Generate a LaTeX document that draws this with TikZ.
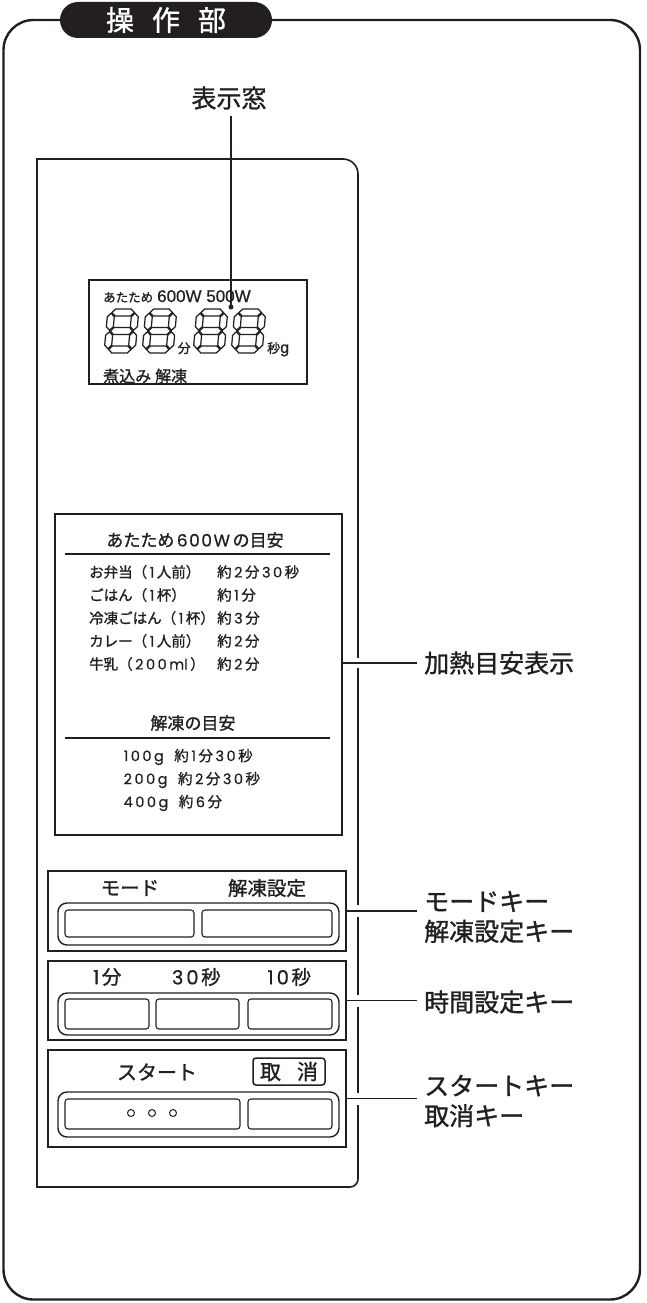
\documentclass[tikz,border=0pt]{standalone}
\usepackage{fontspec}
\setmainfont{Noto Sans CJK JP}[FakeBold=1.2]
\newfontfamily\lat{Liberation Sans}[FakeBold=0.8]
\newfontfamily\dig{Poppins}[FakeBold=0.6]
\definecolor{ink}{HTML}{231F20}
\newcommand{\fs}[1]{\fontsize{#1}{#1}\selectfont}
\newcommand{\dg}[1]{{\dig\kern2.5pt #1\kern2.5pt}}
\newcommand{\ds}{\kern2.5pt}
\newcommand{\segdigit}[2]{%
  \begin{scope}[shift={(#1,#2)},xslant=0.09]
    \foreach \yc in {-40.5,-22,-3.5}
      \draw[seg] (4.3,\yc) -- ++(3.5,-3.5) -- ++(15.4,0) -- ++(3.5,3.5) -- ++(-3.5,3.5) -- ++(-15.4,0) -- cycle;
    \foreach \xc in {3.5,27.5}
      \foreach \ya in {-39.7,-21.2}
        \draw[seg] (\xc,\ya) -- ++(3.5,3.5) -- ++(0,9.9) -- ++(-3.5,3.5) -- ++(-3.5,-3.5) -- ++(0,-9.9) -- cycle;
  \end{scope}}
\begin{document}
\begin{tikzpicture}[x=1pt,y=-1pt,
  frame/.style={draw=ink, line width=2.4pt},
  pline/.style={draw=ink, line width=1.6pt},
  boxn/.style={draw=ink, line width=1.6pt, inner sep=0pt},
  rule/.style={draw=ink, line width=1.3pt},
  leader/.style={draw=ink, line width=1.4pt},
  tray/.style={draw=ink, line width=1.4pt, rounded corners=9pt, inner sep=0pt},
  keyb/.style={draw=ink, line width=1.1pt, rounded corners=3pt, inner sep=0pt},
  seg/.style={draw=ink, line width=1.25pt, line join=miter},
  txt/.style={text=ink, inner sep=0pt},
  gap/.style={fill=white, draw=none}]
\useasboundingbox (0,0) rectangle (646,1303);

% outer frame and title badge
\draw[frame, rounded corners=30pt] (3.5,20) rectangle (640,1299.5);
\node[fill=ink, rounded corners=18pt, minimum width=212pt, minimum height=36pt, inner sep=0pt,
      text=white, font=\fs{28}] (title) at (166,20) {操\kern18pt 作\kern18pt 部};

% label of display
\node[txt, font=\fs{25}] (hyoji) at (229,98) {表示窓};

% panel
\draw[pline] (37,1187) -- (37,159) -- (343,159) .. controls (351.28,159) and (358,165.72) .. (358,174)
  -- (358,1179) .. controls (358,1183.42) and (354.42,1187) .. (350,1187) -- cycle;

% display window
\node[boxn, minimum width=218pt, minimum height=104pt] (disp) at (198,332) {};
\node[txt, anchor=base west] (dtop) at (103,302) {{\fs{12.5}あたため}\kern4pt{\lat\fs{17}600W 500W}};
\segdigit{104}{353}
\segdigit{142}{353}
\segdigit{193}{353}
\segdigit{231}{353}
\node[txt, anchor=base west, font=\fs{13}] (fun) at (177.5,353) {分};
\node[txt, anchor=base west] (byog) at (267,353) {{\fs{13}秒}{\lat\fs{16}g}};
\node[txt, anchor=west, font=\fs{16}] (nikomi) at (103,376) {煮込み\kern4pt 解凍};
\node[circle, fill=ink, inner sep=0pt, minimum size=5pt] (dot) at (231,307) {};
\draw[leader, shorten <=6pt] (dot |- hyoji.south) -- (dot.center);

% heating guide
\node[boxn, minimum width=287pt, minimum height=321pt] (guide) at (198.5,674.5) {};
\node[txt, font=\fs{17}] (g1h) at (195,540) {あたため\dg{6\kern1.5pt 0\kern1.5pt 0\kern1.5pt W}の目安};
\draw[rule] (65,554) -- (330,554);
\node[txt, anchor=west, font=\fs{14.5}] (r1a) at (89,572) {お弁当（\dg{1}人前）};
\node[txt, anchor=west, font=\fs{14.5}] (r1b) at (217,572) {約\dg{2}分\dg{3\ds 0}秒};
\node[txt, anchor=west, font=\fs{14.5}] (r2a) at (89,595) {ごはん（\dg{1}杯）};
\node[txt, anchor=west, font=\fs{14.5}] (r2b) at (217,595) {約\dg{1}分};
\node[txt, anchor=west, font=\fs{14.5}] (r3a) at (89,618) {冷凍ごはん（\dg{1}杯）};
\node[txt, anchor=west, font=\fs{14.5}] (r3b) at (217,618) {約\dg{3}分};
\node[txt, anchor=west, font=\fs{14.5}] (r4a) at (89,641) {カレー（\dg{1}人前）};
\node[txt, anchor=west, font=\fs{14.5}] (r4b) at (217,641) {約\dg{2}分};
\node[txt, anchor=west, font=\fs{14.5}] (r5a) at (89,664) {牛乳（\dg{2\ds 0\ds 0\ds ml}）};
\node[txt, anchor=west, font=\fs{14.5}] (r5b) at (217,664) {約\dg{2}分};
\node[txt, font=\fs{17}] (g2h) at (193,723) {解凍の目安};
\draw[rule] (65,738) -- (330,738);
\node[txt, anchor=west, font=\fs{14.5}] (d1) at (121,757) {\dg{1\ds 0\ds 0\ds g}\kern8pt 約\dg{1}分\dg{3\ds 0}秒};
\node[txt, anchor=west, font=\fs{14.5}] (d2) at (121,780) {\dg{2\ds 0\ds 0\ds g}\kern8pt 約\dg{2}分\dg{3\ds 0}秒};
\node[txt, anchor=west, font=\fs{14.5}] (d3) at (121,803) {\dg{4\ds 0\ds 0\ds g}\kern8pt 約\dg{6}分};

% key group 1
\node[boxn, minimum width=298pt, minimum height=80pt] (grp1) at (197,911) {};
\node[txt, font=\fs{19.5}] (lmode) at (130,888) {モード};
\node[txt, font=\fs{19.5}] (lkaito) at (267,888) {解凍設定};
\node[tray, minimum width=281pt, minimum height=42pt] (tray1) at (198.5,924) {};
\node[keyb, minimum width=129pt, minimum height=27pt] (k11) at (129.5,923.5) {};
\node[keyb, minimum width=130pt, minimum height=27pt] (k12) at (267,923.5) {};

% key group 2
\node[boxn, minimum width=298pt, minimum height=79pt] (grp2) at (197,1000.5) {};
\node[txt, font=\fs{19.5}] (l1m) at (106,977) {\dg{1}分};
\node[txt, font=\fs{19.5}] (l30s) at (195,977) {\dg{3\kern3pt 0}秒};
\node[txt, font=\fs{19.5}] (l10s) at (288,977) {\dg{1\kern3pt 0}秒};
\node[tray, minimum width=281pt, minimum height=42pt] (tray2) at (198.5,1014) {};
\node[keyb, minimum width=84pt, minimum height=30pt] (k21) at (107,1014) {};
\node[keyb, minimum width=83pt, minimum height=30pt] (k22) at (197.5,1014) {};
\node[keyb, minimum width=84pt, minimum height=30pt] (k23) at (290,1014) {};

% key group 3
\node[boxn, minimum width=298pt, minimum height=97pt] (grp3) at (197,1098.5) {};
\node[txt, font=\fs{20}] (lstart) at (157,1072) {スタート};
\node[keyb, line width=1.5pt, minimum width=72pt, minimum height=27pt, text=ink, font=\fs{21}] (ltorikeshi) at (289,1071.5) {取\kern16pt 消};
\node[tray, minimum width=281pt, minimum height=45pt] (tray3) at (198.5,1114.5) {};
\node[keyb, minimum width=175pt, minimum height=30pt] (k31) at (152.5,1114) {};
\node[keyb, minimum width=84pt, minimum height=30pt] (k32) at (290,1114) {};
\foreach \cx/\nm in {131/c1,152/c2,173/c3}
  \node[circle, draw=ink, line width=1pt, inner sep=0pt, minimum size=7pt] (\nm) at (\cx,1113) {};

% right labels
\node[txt, anchor=west, font=\fs{25}] (heatlbl) at (424,663) {加熱目安表示};
\node[txt, anchor=west, align=left, font=\fontsize{25}{30}\selectfont] (modelbl) at (424,917) {モードキー\\解凍設定キー};
\node[txt, anchor=west, font=\fs{25}] (timelbl) at (424,1002) {時間設定キー};
\node[txt, anchor=west, align=left, font=\fontsize{25}{30}\selectfont] (startlbl) at (424,1101) {スタートキー\\取消キー};

% gaps in the panel edge where leaders cross
\fill[gap] (354,658) rectangle (362,668);
\fill[gap] (354,905) rectangle (362,917);
\fill[gap] (354,994.5) rectangle (362,1006.5);
\fill[gap] (354,1092.5) rectangle (362,1104.5);

% leaders
\coordinate (hc) at (417,663);
\draw[leader] (guide.east |- hc) -- (hc);
\draw[leader] (grp1.east) -- (grp1.east -| hc);
\draw[leader] (grp2.east) -- (grp2.east -| hc);
\draw[leader] (grp3.east) -- (grp3.east -| hc);
\end{tikzpicture}
\end{document}
